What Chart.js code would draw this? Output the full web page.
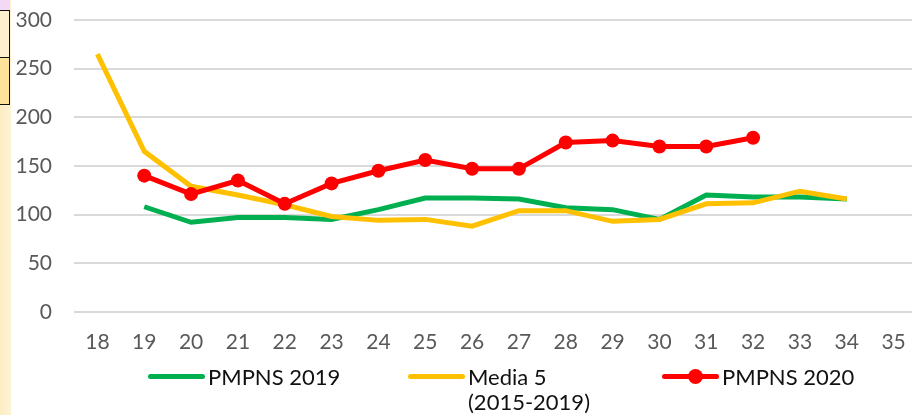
<!DOCTYPE html>
<html>
<head>
<meta charset="utf-8">
<script src="https://cdn.jsdelivr.net/npm/chart.js@4"></script>
<style>
  html, body { margin: 0; padding: 0; background: #fff; }
  #wrap { position: relative; width: 912px; height: 415px; overflow: hidden; font-family: Lato, sans-serif; }
  #side { position: absolute; left: 0; top: 0; width: 11px; height: 415px; background: linear-gradient(to right, #fdedc0, #fdf3d8); }
  #lilac { position: absolute; left: 0; top: 0; width: 10px; height: 10px; background: #f3d9f6; border-bottom: 1px solid #111; }
  .box { position: absolute; left: 0; width: 9px; border-right: 1px solid #111; border-bottom: 1px solid #111; }
  #b1 { top: 11px; height: 46px; background: #fdf0cc; }
  #b2 { top: 58px; height: 46px; background: #fee29a; }
  #cv { position: absolute; left: 0; top: 0; }
  #legend { position: absolute; top: 364px; left: 0; width: 912px; height: 51px; }
  .item { position: absolute; top: 0; display: flex; align-items: flex-start; font-size: 22px; color: #111; line-height: 25px; }
  .sw { position: relative; height: 25px; margin-right: 3px; }
  .sw .ln { position: absolute; left: 0; right: 0; top: 10px; height: 5px; border-radius: 3px; }
  .sw .dot { position: absolute; top: 5px; width: 15px; height: 15px; border-radius: 8px; }
</style>
</head>
<body>
<div id="wrap">
  <div id="side"></div>
  <div id="lilac"></div>
  <div class="box" id="b1"></div>
  <div class="box" id="b2"></div>
  <canvas id="cv" width="924" height="415"></canvas>
  <div id="legend"></div>
</div>
<script>
// weeks on the x axis
const weeks = ["18", "19", "20", "21", "22", "23", "24", "25", "26", "27", "28", "29", "30", "31", "32", "33", "34", "35"];

const pmpns2019 = [null, 108, 92, 97, 97, 95, 105, 117, 117, 116, 107, 105, 95, 120, 118, 118, 116, null];
const media5 = [265, 165, 129, 120, 110, 98, 94, 95, 88, 104, 104, 93, 95, 111, 112, 124, 116, null];
const pmpns2020 = [null, 140, 121, 135, 111, 132, 145, 156, 147, 147, 174, 176, 170, 170, 179, null, null, null];

const seriesNames = ["PMPNS 2019", "Media 5\n(2015-2019)", "PMPNS 2020"];
const seriesColors = ["#00b050", "#ffc000", "#ff0000"];

const font = { family: "Lato, sans-serif", size: 21 };

const ctx = document.getElementById("cv").getContext("2d");

const chart = new Chart(ctx, {
  type: "line",
  data: {
    labels: weeks,
    datasets: [
      {
        label: seriesNames[0],
        data: pmpns2019,
        borderColor: seriesColors[0],
        borderWidth: 5,
        pointRadius: 0,
        order: 3,
      },
      {
        label: seriesNames[1],
        data: media5,
        borderColor: seriesColors[1],
        borderWidth: 5,
        pointRadius: 0,
        order: 2,
      },
      {
        label: seriesNames[2],
        data: pmpns2020,
        borderColor: seriesColors[2],
        backgroundColor: seriesColors[2],
        borderWidth: 5,
        pointRadius: 7,
        pointBorderWidth: 0,
        order: 1,
      },
    ],
  },
  options: {
    responsive: false,
    animation: false,
    layout: { padding: { top: 20, left: 0, right: 0, bottom: 42 } },
    plugins: {
      legend: { display: false },
      tooltip: { enabled: false },
    },
    scales: {
      x: {
        offset: true,
        grid: { display: false, drawTicks: false },
        border: { display: false },
        ticks: { color: "#595959", font: font, padding: 18, maxRotation: 0, autoSkip: false },
      },
      y: {
        min: 0,
        max: 300,
        grid: { color: "#d9d9d9", lineWidth: 2, drawTicks: false },
        border: { display: false },
        ticks: { stepSize: 50, color: "#595959", font: font, padding: 22 },
        afterFit: (scale) => {
          scale.width = 74;
          scale.paddingTop = 0;
          scale.paddingBottom = 0;
        },
      },
    },
  },
});

// legend under the plot, built from the dataset list
const legend = document.getElementById("legend");
const legendX = [148, 408, 662];
const swatchW = 57;
chart.data.datasets.forEach((ds, i) => {
  const item = document.createElement("div");
  item.className = "item";
  item.style.left = legendX[i] + "px";
  const sw = document.createElement("div");
  sw.className = "sw";
  sw.style.width = swatchW + "px";
  sw.innerHTML = '<div class="ln" style="background:' + ds.borderColor + '"></div>' +
    (ds.pointRadius ? '<div class="dot" style="left:' + (swatchW / 2 - 3) + 'px;background:' + ds.borderColor + '"></div>' : "");
  const txt = document.createElement("div");
  txt.innerHTML = ds.label.split("\n").join("<br>");
  item.appendChild(sw);
  item.appendChild(txt);
  legend.appendChild(item);
});
</script>
</body>
</html>
